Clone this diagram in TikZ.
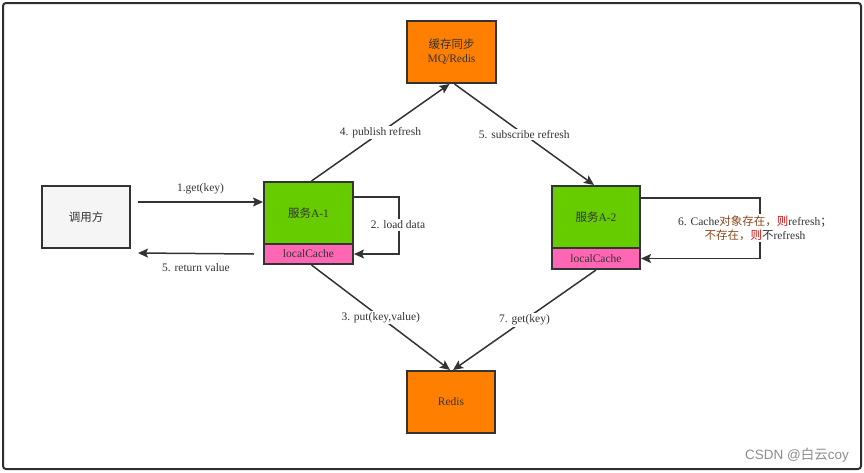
\documentclass[tikz,border=0pt]{standalone}
\usepackage{fontspec}
\setmainfont{Liberation Serif}
\newfontfamily\cjk{Noto Sans CJK SC}
\newfontfamily\sanscjk{Noto Sans CJK SC}
\newfontfamily\lsans{Liberation Sans}
\usetikzlibrary{arrows.meta}
\definecolor{ink}{HTML}{333333}
\definecolor{orangebox}{HTML}{FF8000}
\definecolor{greenbox}{HTML}{66CC00}
\definecolor{pinkbox}{HTML}{FF66B3}
\definecolor{graybox}{HTML}{F5F5F5}
\definecolor{brownt}{HTML}{8B4A1C}
\definecolor{redt}{HTML}{D01010}
\begin{document}
\begin{tikzpicture}[x=1pt,y=-1pt,
  box/.style={draw=ink, line width=2pt, inner sep=0pt, text=ink, font=\fontsize{11.5}{14}\selectfont, align=center},
  arr/.style={draw=ink, line width=1.5pt, -{Stealth[length=10pt,width=9pt,inset=2pt]}},
  lbl/.style={fill=white, inner sep=1.5pt, text=ink, font=\fontsize{11.5}{14}\selectfont, align=center},
  plainlbl/.style={inner sep=1pt, text=ink, font=\fontsize{11.5}{14}\selectfont}]
\useasboundingbox (0,0) rectangle (864,472);
\draw[draw=ink!90!black, line width=2pt, rounded corners=3pt] (3,3) rectangle (861,469);

% boxes
\node[box, fill=orangebox, minimum width=89pt, minimum height=62pt] (mq) at (451.5,52) {{\cjk 缓存同步}\\MQ/Redis};
\node[box, fill=graybox, minimum width=88pt, minimum height=62pt] (call) at (86,217) {\cjk 调用方};
\node[box, fill=greenbox, minimum width=89pt, minimum height=62pt] (a1) at (308.5,213) {{\cjk 服务}A-1};
\node[box, fill=pinkbox, minimum width=89pt, minimum height=20pt] (c1) at (308.5,254) {localCache};
\node[box, fill=greenbox, minimum width=88pt, minimum height=62pt] (a2) at (596,217) {{\cjk 服务}A-2};
\node[box, fill=pinkbox, minimum width=88pt, minimum height=21pt] (c2) at (596,258.5) {localCache};
\node[box, fill=orangebox, minimum width=88pt, minimum height=62pt] (redis) at (451,402) {Redis};

% 1. get(key)
\draw[arr] ([xshift=7pt,yshift=15pt]call.east) -- ([yshift=11pt]a1.west) node[plainlbl, midway, above=6pt] (l1) {1.get(key)};
% 5. return value
\draw[arr] ([xshift=-9pt]c1.west) -- ([xshift=7pt,yshift=-36pt]call.east) node[plainlbl, midway, below=8pt] (l5r) {5. return value};
% 2. load data
\draw[arr] ([yshift=16pt]a1.east) -- ++(45,0) |- (c1.east);
\node[lbl] (l2) at (398,225) {2. load data};
% 4. publish refresh
\draw[arr] ([xshift=3pt]a1.north) -- ([xshift=-2pt]mq.south) node[lbl, midway] (l4) {4. publish refresh};
% 5. subscribe refresh
\draw[arr] ([xshift=3pt]mq.south) -- ([xshift=-2pt]a2.north) node[lbl, midway] (l5) {5. subscribe refresh};
% 3. put
\draw[arr] ([xshift=3pt]c1.south) -- ([xshift=-1pt]redis.north) node[lbl, midway] (l3) {3. put(key,value)};
% 7. get
\draw[arr] (c2.south) -- ([xshift=2pt]redis.north) node[lbl, midway] (l7) {7. get(key)};
% 6. loop
\draw[arr] ([yshift=19pt]a2.east) -- ++(119,0) |- (c2.east);
\node[lbl] (l6) at (755,228) {6. Cache{\cjk\color{brownt}对象存在，}{\cjk\color{redt}则}refresh{\cjk ；}\\{\cjk\color{brownt}不存在，}{\cjk\color{redt}则}{\cjk 不}refresh};

% credit
\node[text=black!45, font=\lsans\fontsize{13.5}{15}\selectfont, anchor=east, inner sep=0pt] (credit) at (849,455) {CSDN @{\sanscjk 白云}coy};
\end{tikzpicture}
\end{document}
